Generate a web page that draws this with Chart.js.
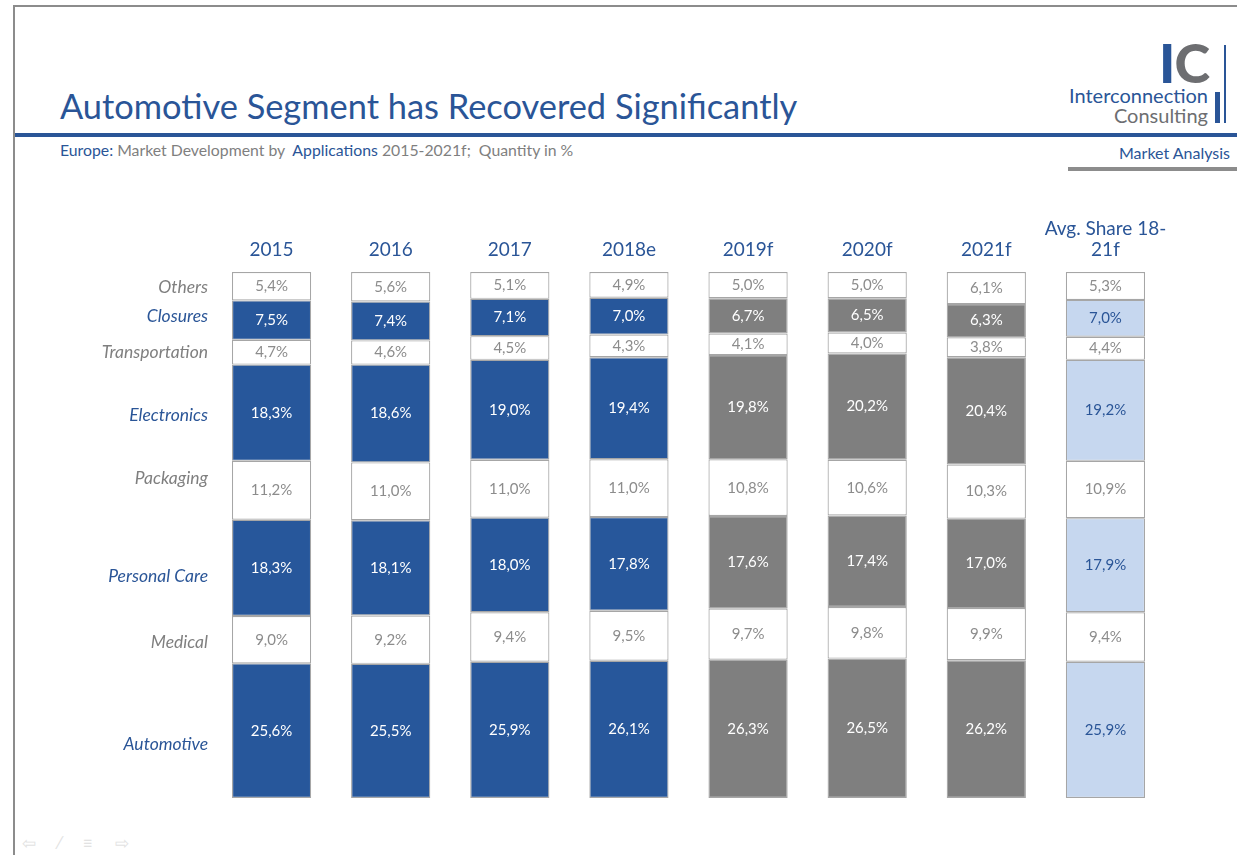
<!DOCTYPE html>
<html>
<head>
<meta charset="utf-8">
<script src="https://cdn.jsdelivr.net/npm/chart.js@4"></script>
<style>
  body { margin: 0; width: 1237px; height: 855px; background: #fff; font-family: Lato, "Noto Sans", sans-serif; overflow: hidden; position: relative; }
  #wrap { position: absolute; left: 0; top: 0; width: 1237px; height: 855px; }
  .abs { position: absolute; white-space: nowrap; }
  .blue { color: #2a5597; }
  .gray { color: #7f7f7f; }
</style>
</head>
<body>
<div class="abs" style="left:13px;top:5px;width:1224px;height:2px;background:#8c8c8c"></div>
<div class="abs" style="left:13px;top:5px;width:2px;height:850px;background:#8c8c8c"></div>

<div class="abs blue" style="left:60px;top:85px;font-size:34.4px;">Automotive Segment has Recovered Significantly</div>
<div class="abs" style="left:15px;top:133px;width:1222px;height:4px;background:#2a5597"></div>
<div class="abs gray" style="left:60px;top:140px;font-size:15.8px;"><span class="blue">Europe:</span> Market Development by&nbsp; <span class="blue">Applications</span> 2015-2021f;&nbsp; Quantity in %</div>

<!-- logo -->
<div class="abs" style="left:1159px;top:36px;font-size:54px;font-weight:900;line-height:54px;letter-spacing:-1px"><span class="blue">I</span><span style="color:#6d6e71">C</span></div>
<div class="abs" style="left:1224px;top:45px;width:2px;height:78px;background:#2a5597"></div>
<div class="abs" style="left:1215px;top:92px;width:5px;height:31px;background:#2a5597"></div>
<div class="abs blue" style="right:29px;top:83px;font-size:20px;">Interconnection</div>
<div class="abs" style="right:29px;top:103px;font-size:20px;color:#6d6e71">Consulting</div>
<div class="abs blue" style="right:7px;top:143px;font-size:16px;">Market Analysis</div>
<div class="abs" style="left:1068px;top:167px;width:169px;height:4px;background:#8c8c8c"></div>

<div class="abs" style="left:22px;top:832px;font-size:17px;color:#e2e2e2;letter-spacing:9px">⇦ ⁄ ≡ ⇨</div>

<div id="wrap"><canvas id="chart" width="1237" height="855"></canvas></div>

<script>
const periods = ['2015', '2016', '2017', '2018e', '2019f', '2020f', '2021f', ['Avg. Share 18-', '21f']];
const segments = ['Automotive', 'Medical', 'Personal Care', 'Packaging', 'Electronics', 'Transportation', 'Closures', 'Others'];
const automotive = [25.6, 25.5, 25.9, 26.1, 26.3, 26.5, 26.2, 25.9];
const medical = [9.0, 9.2, 9.4, 9.5, 9.7, 9.8, 9.9, 9.4];
const personalCare = [18.3, 18.1, 18.0, 17.8, 17.6, 17.4, 17.0, 17.9];
const packaging = [11.2, 11.0, 11.0, 11.0, 10.8, 10.6, 10.3, 10.9];
const electronics = [18.3, 18.6, 19.0, 19.4, 19.8, 20.2, 20.4, 19.2];
const transportation = [4.7, 4.6, 4.5, 4.3, 4.1, 4.0, 3.8, 4.4];
const closures = [7.5, 7.4, 7.1, 7.0, 6.7, 6.5, 6.3, 7.0];
const others = [5.4, 5.6, 5.1, 4.9, 5.0, 5.0, 6.1, 5.3];
const highlighted = [true, false, true, false, true, false, true, false];
// small nudges of the row names, as placed on the slide
const nameShift = [14, 3, 8, -12, 3, 0, -4, 1];

const BLUE = '#27579b', GREY = '#7f7f7f', LIGHT = '#c6d7ef', TEXTBLUE = '#2a5597';

function colourFor(i, hi) {
  if (!hi) return '#ffffff';
  if (i < 4) return BLUE;
  if (i < 7) return GREY;
  return LIGHT;
}

const series = [automotive, medical, personalCare, packaging, electronics, transportation, closures, others];
const datasets = series.map((vals, k) => ({
  label: segments[k],
  data: vals,
  backgroundColor: vals.map((v, i) => colourFor(i, highlighted[k])),
  borderColor: '#a6a6a6',
  borderWidth: 1.2,
  borderSkipped: false,
  barPercentage: 0.665,
  categoryPercentage: 1.0
}));

const labelPlugin = {
  id: 'labels',
  afterDatasetsDraw(chart) {
    const c = chart.ctx;
    const y = chart.scales.y;
    c.save();
    // values inside segments
    chart.data.datasets.forEach((ds, k) => {
      chart.getDatasetMeta(k).data.forEach((bar, i) => {
        const v = ds.data[i];
        let col = '#8c8c8c';
        if (highlighted[k]) col = i === 7 ? TEXTBLUE : '#ffffff';
        c.fillStyle = col;
        c.font = '15px Lato, "Noto Sans", sans-serif';
        c.textAlign = 'center';
        c.textBaseline = 'middle';
        c.fillText(v.toFixed(1).replace('.', ',') + '%', bar.x, (bar.y + bar.base) / 2);
      });
    });
    // segment names on the left, beside the first bar
    let cum = 0;
    series.forEach((vals, k) => {
      const mid = y.getPixelForValue(cum + vals[0] / 2);
      cum += vals[0];
      c.fillStyle = highlighted[k] ? TEXTBLUE : '#7f7f7f';
      c.font = 'italic 17.5px Lato, "Noto Sans", sans-serif';
      c.textAlign = 'right';
      c.textBaseline = 'middle';
      c.fillText(segments[k], 208, mid + nameShift[k]);
    });
    c.restore();
  }
};

new Chart(document.getElementById('chart'), {
  type: 'bar',
  data: { labels: periods, datasets: datasets },
  options: {
    responsive: false,
    animation: false,
    layout: { padding: { left: 212, right: 72, top: 212, bottom: 57 } },
    plugins: { legend: { display: false }, tooltip: { enabled: false } },
    scales: {
      x: {
        position: 'top',
        stacked: true,
        grid: { display: false, drawTicks: false },
        border: { display: false },
        afterFit: (s) => { s.height = 60; },
        ticks: { color: TEXTBLUE, font: { size: 19, family: 'Lato, "Noto Sans", sans-serif', lineHeight: 1.1 }, padding: 12, maxRotation: 0, autoSkip: false }
      },
      y: { stacked: true, display: false, min: 0, max: 100 }
    }
  },
  plugins: [labelPlugin]
});
</script>
</body>
</html>
